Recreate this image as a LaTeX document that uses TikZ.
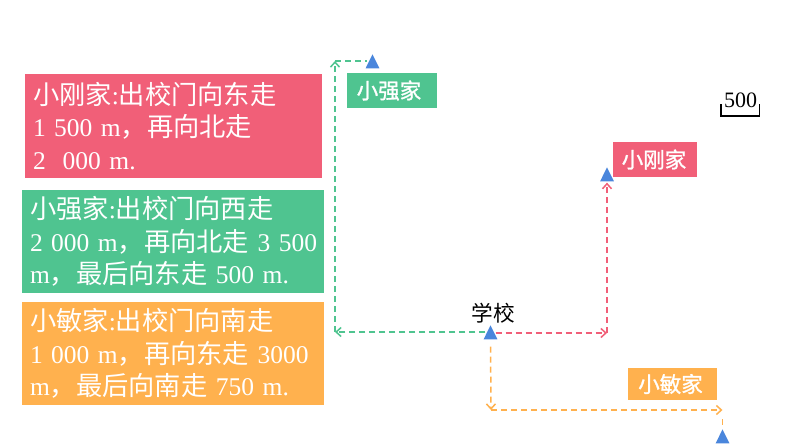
\documentclass[tikz,border=0pt]{standalone}
\usepackage{fontspec}
\setmainfont{Liberation Serif}
\newfontfamily\cjk[Scale=1.03]{Noto Sans CJK SC}
\newfontfamily\cjkbold[FakeBold=1.2]{Noto Sans CJK SC}
\usetikzlibrary{shapes.geometric, arrows.meta}
\definecolor{gangred}{HTML}{F15F78}
\definecolor{qianggreen}{HTML}{4FC490}
\definecolor{minorange}{HTML}{FFB14E}
\definecolor{markblue}{HTML}{4A86DC}
\tikzset{notebox/.style={text=white,inner xsep=8pt,inner ysep=0pt,align=left,minimum height=#1,
            font=\fontsize{25.5}{32.5}\selectfont},
         housebox/.style={text=white,inner sep=0pt,font=\cjkbold\fontsize{21.5}{24}\selectfont},
         spot/.style={draw=none,fill=markblue,isosceles triangle,isosceles triangle apex angle=53,
            shape border rotate=90,minimum height=14pt,inner sep=0pt,anchor=north},
         route/.style={-{Straight Barb[length=5pt,width=9pt]},line width=1.5pt,dash pattern=on 6pt off 4pt},
        }
\begin{document}
\begin{tikzpicture}[x=1pt,y=-1pt]
        \useasboundingbox (0,0) rectangle (794,447);

        \node[notebox=104pt, fill=gangred, text width=281pt](gangnote)at(173.5,126){{\cjk 小刚家}:{\cjk 出校门向东走}\\1~500~m{\cjk ，再向北走}\\2~~000~m.};
        \node[notebox=103pt, fill=qianggreen, text width=286pt](qiangnote)at(173,241.5){{\cjk 小强家}:{\cjk 出校门向西走}\\2~000~m{\cjk ，再向北走}~3~500\\m{\cjk ，最后向东走}~500~m.};
        \node[notebox=103pt, fill=minorange, text width=286pt](minnote)at(173,353.5){{\cjk 小敏家}:{\cjk 出校门向南走}\\1~000~m{\cjk ，再向东走}~3000\\m{\cjk ，最后向南走}~750~m.};

        \node[housebox, fill=qianggreen, minimum width=90pt, minimum height=35pt](qianglabel)at(392,90.5){\hspace*{-6pt}小强家};
        \node[housebox, fill=gangred, minimum width=84pt, minimum height=35pt](ganglabel)at(655,159.5){\hspace*{-2pt}小刚家};
        \node[housebox, fill=minorange, minimum width=89pt, minimum height=32pt](minlabel)at(672.5,384){\hspace*{-4pt}小敏家};

        \node[spot](school)at(490.5,325){};
        \node[spot](qiang)at(372.5,54){};
        \node[spot](gang)at(607,167){};
        \node[spot](min)at(722.5,429){};

        \node[font=\cjk\fontsize{21}{24}\selectfont](schoolname)at(493,313){学校};

        \coordinate(qiangA)at(335,332);
        \coordinate(qiangB)at(335,61);
        \coordinate(gangA)at(607,333);
        \coordinate(minA)at(491,410);
        \coordinate(minB)at(722.5,410);

        \draw[route, draw=qianggreen](school.west|-qiangA)--(qiangA);
        \draw[route, draw=qianggreen](qiangA)--(qiangB);
        \draw[route, -, draw=qianggreen](qiangB)--(qiang.west|-qiangB);

        \draw[route, draw=gangred](school.east|-gangA)--(gangA);
        \draw[route, draw=gangred, shorten >=1pt](gangA)--(gang.south);

        \draw[route, draw=minorange, shorten <=7pt](school.south)--(minA);
        \draw[route, draw=minorange](minA)--(minB);
        \draw[route, -, draw=minorange, shorten <=9pt, shorten >=3pt](minB)--(min.north);

        \node[font=\fontsize{22}{24}\selectfont, inner sep=0pt](scalenum)at(740.5,100){500};
        \coordinate(scaleA)at(721,104);
        \coordinate(scaleB)at(721,116);
        \coordinate(scaleC)at(759.5,116);
        \coordinate(scaleD)at(759.5,104);
        \draw[line width=1.3pt](scaleA)--(scaleB)--(scaleC)--(scaleD);
    \end{tikzpicture}
\end{document}
